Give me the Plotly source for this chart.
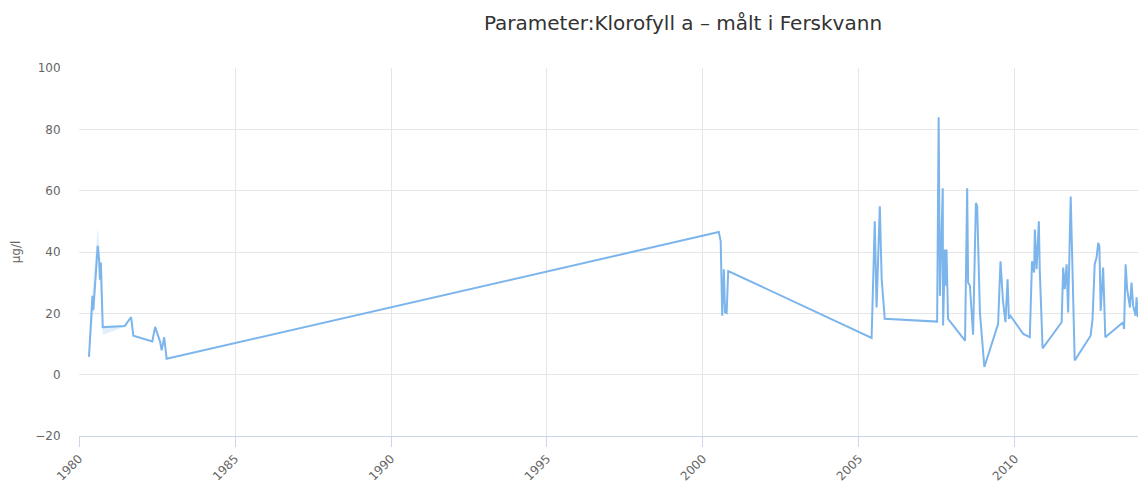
import plotly.graph_objects as go

# Klorofyll a measurements (µg/l) by sampling date
dates = [
    "1980-04-27", "1980-06-06", "1980-06-17", "1980-06-28", "1980-08-07", "1980-08-25",
    "1980-09-02", "1980-09-13", "1980-10-05", "1981-06-21", "1981-09-02", "1981-09-28",
    "1982-05-08", "1982-06-10", "1982-08-08", "1982-08-26", "1982-09-24", "1982-10-23",
    "2000-07-05", "2000-07-27", "2000-08-14", "2000-09-02", "2000-09-16", "2000-10-05",
    "2000-10-23",
    "2005-05-29", "2005-07-05", "2005-07-26", "2005-09-02", "2005-09-24", "2005-10-30",
    "2007-07-05", "2007-07-23", "2007-08-07", "2007-08-18", "2007-09-09", "2007-09-13",
    "2007-10-05", "2007-10-16", "2007-10-23", "2007-11-10",
    "2008-05-27", "2008-06-21", "2008-07-02", "2008-07-23", "2008-08-29", "2008-10-01",
    "2008-10-16", "2008-11-17", "2009-01-08",
    "2009-06-18", "2009-07-16", "2009-08-14", "2009-09-12", "2009-10-07", "2009-10-22",
    "2009-11-10",
    "2010-04-08", "2010-06-24", "2010-07-20", "2010-08-14", "2010-08-22", "2010-09-12",
    "2010-10-08", "2010-10-19", "2010-11-21",
    "2011-07-02", "2011-07-20", "2011-08-07", "2011-08-29", "2011-09-16", "2011-10-16",
    "2011-12-02",
    "2012-06-05", "2012-06-28", "2012-07-23", "2012-08-14", "2012-09-02", "2012-09-16",
    "2012-10-01", "2012-10-30", "2012-11-24",
    "2013-06-21", "2013-07-02", "2013-07-20", "2013-08-07", "2013-09-09", "2013-09-27",
    "2013-10-16", "2013-11-14", "2013-11-25", "2013-12-10",
]
values = [
    5.8, 25.7, 21.0, 26.0, 42.0, 37.0,
    31.0, 36.6, 15.5, 15.9, 18.8, 12.7,
    10.8, 15.6, 10.7, 7.9, 12.2, 5.2,
    46.5, 43.5, 19.2, 34.4, 20.3, 20.1,
    33.8,
    12.0, 50.0, 21.9, 54.9, 31.1, 18.2,
    17.3, 83.9, 25.7, 40.8, 60.8, 16.0,
    40.8, 29.0, 40.8, 18.2,
    11.1, 60.8, 30.0, 29.0, 13.0, 56.0,
    54.9, 20.3, 2.5,
    16.5, 37.0, 24.1, 17.1, 31.1, 18.2,
    19.2,
    13.3, 12.2, 37.0, 33.3, 47.3, 34.4,
    50.0, 33.8, 8.6,
    17.1, 34.9, 27.9, 36.0, 20.3, 58.1,
    4.6,
    12.7, 18.2, 36.0, 38.2, 43.0, 41.9,
    20.8, 34.9, 12.2,
    17.1, 14.9, 36.0, 27.9, 21.9, 30.0,
    22.5, 19.2, 25.2, 18.7,
]

# Spread (min/max) around the early 1980 samples
range_dates = ["1980-04-27", "1980-06-06", "1980-08-07", "1980-09-02", "1980-10-05", "1981-06-21"]
range_low = [5.8, 16.0, 38.0, 30.0, 13.0, 15.6]
range_high = [5.8, 27.0, 48.0, 40.0, 16.0, 16.0]

y_ticks = [-20, 0, 20, 40, 60, 80, 100]
title_text = "Parameter:Klorofyll a – målt i Ferskvann"
y_title = "µg/l"

LINE = "#7cb5ec"
GRID = "#e6e6e6"
AXIS = "#ccd6eb"
LABEL = "#666666"
FONT = "DejaVu Sans"

fig = go.Figure()

fig.add_trace(go.Scatter(
    x=range_dates + range_dates[::-1],
    y=range_high + range_low[::-1],
    fill="toself",
    fillcolor="rgba(124,181,236,0.22)",
    line=dict(width=0),
    mode="lines",
    hoverinfo="skip",
    showlegend=False,
))

fig.add_trace(go.Scatter(
    x=dates,
    y=values,
    mode="lines",
    line=dict(color=LINE, width=2),
    showlegend=False,
    name="Klorofyll a",
))

fig.update_layout(
    width=1138,
    height=483,
    margin=dict(l=79, r=0, t=68, b=45),
    paper_bgcolor="white",
    plot_bgcolor="white",
    font=dict(family=FONT, color=LABEL, size=12),
    title=dict(
        text=title_text,
        x=683 / 1138,
        xref="container",
        xanchor="center",
        y=1 - 23 / 483,
        yref="container",
        yanchor="middle",
        font=dict(family=FONT, size=20, color="#333333"),
    ),
    xaxis=dict(
        type="date",
        range=["1980-01-01", "2013-12-12"],
        tick0="1980-01-01",
        dtick="M60",
        tickformat="%Y",
        tickangle=-45,
        ticks="outside",
        ticklen=10,
        tickcolor=AXIS,
        showline=True,
        linecolor=AXIS,
        linewidth=1,
        showgrid=True,
        gridcolor=GRID,
        gridwidth=1,
        zeroline=False,
        tickfont=dict(size=12, color=LABEL),
    ),
    yaxis=dict(
        range=[-20, 100],
        tickvals=y_ticks,
        ticks="outside",
        ticklen=15,
        tickcolor="rgba(0,0,0,0)",
        showgrid=True,
        gridcolor=GRID,
        gridwidth=1,
        zeroline=False,
        showline=False,
        tickfont=dict(size=12, color=LABEL),
        title=dict(text=y_title, standoff=12, font=dict(size=12, color=LABEL)),
    ),
)

fig.write_html("out.html")
